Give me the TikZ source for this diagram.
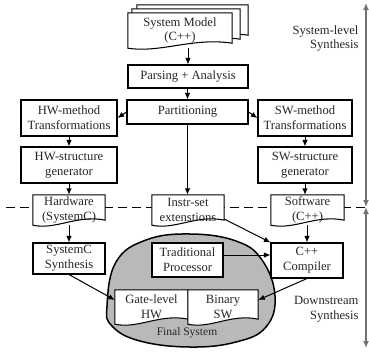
\documentclass[tikz,border=0pt]{standalone}
\usepackage{fontspec}
\setmainfont{Liberation Serif}
\usetikzlibrary{arrows.meta,calc}
\pgfdeclarelayer{bg}
\pgfdeclarelayer{docs}
\pgfsetlayers{bg,docs,main}

% outline of a document symbol (wavy lower edge) around a named node
\newcommand\docdraw[1]{%
  \draw[docline] (#1.south west) -- (#1.north west) -- (#1.north east)
    -- ($(#1.south east)+(0,-5)$)
    .. controls ($(#1.south west)!0.62!(#1.south east)+(0,-11)$)
       and ($(#1.south west)!0.32!(#1.south east)+(0,5)$) .. (#1.south west) -- cycle;}

\begin{document}
\begin{tikzpicture}[x=1pt,y=-1pt,
  lbl/.style={font=\fontsize{12.6}{14.8}\selectfont, align=center, text=black!85},
  box/.style={lbl, draw, line width=1.05pt, fill=white, inner sep=0pt},
  docnode/.style={lbl, inner sep=0pt},
  docline/.style={draw, line width=1.05pt, fill=white},
  arr/.style={-{Latex[length=6.5pt,width=5.5pt]}, line width=1pt},
  side/.style={{Latex[length=7pt,width=6pt]}-{Latex[length=7pt,width=6pt]}, line width=1.6pt, draw=black!55},
  cut/.style={dash pattern=on 9pt off 5pt, line width=1pt},
]
\useasboundingbox (0,0) rectangle (369,351);

% ---- system model stack ----
\node[docnode, minimum width=111pt, minimum height=35pt] (sm3) at (192.5,22.5) {};
\node[docnode, minimum width=108pt, minimum height=35pt] (sm2) at (186,26.5) {};
\node[docnode, minimum width=104pt, minimum height=35pt] (sm) at (180,30.5) {System Model\\(C++)};

% ---- upper flow ----
\node[box, minimum width=120pt, minimum height=23pt] (parse) at (188,76.5) {Parsing + Analysis};
\node[box, minimum width=121pt, minimum height=24pt] (part) at (187.5,112) {Partitioning};
\node[box, minimum width=96pt, minimum height=36pt] (hwm) at (69,118) {HW-method\\Transformations};
\node[box, minimum width=94pt, minimum height=36pt] (swm) at (305,118) {SW-method\\Transformations};
\node[box, minimum width=96pt, minimum height=36pt] (hws) at (69,165) {HW-structure\\generator};
\node[box, minimum width=94pt, minimum height=36pt] (sws) at (305,165) {SW-structure\\generator};

% ---- generated descriptions ----
\node[docnode, minimum width=72pt, minimum height=30pt] (hw) at (69,210) {Hardware\\(SystemC)};
\node[docnode, minimum width=72pt, minimum height=30pt] (isx) at (188,210) {Instr-set\\extenstions};
\node[docnode, minimum width=73pt, minimum height=30pt] (sw) at (307.5,210) {Software\\(C++)};

% ---- downstream tools ----
\node[box, minimum width=72pt, minimum height=31pt] (scs) at (69,258.5) {SystemC\\Synthesis};
\node[box, minimum width=71pt, minimum height=34pt] (trad) at (187.5,260) {Traditional\\Processor};
\node[box, minimum width=72pt, minimum height=35pt] (cpp) at (307,260.5) {C++\\Compiler};

% ---- final system contents ----
\node[docnode, minimum width=73pt, minimum height=34pt] (gate) at (151.5,307) {Gate-level\\HW};
\node[docnode, minimum width=70pt, minimum height=34pt] (bin) at (223,307) {Binary\\SW};
\node[lbl, font=\fontsize{11.5}{13}\selectfont] (fin) at (187,333) {Final System};

% ---- side labels ----
\node[lbl, align=right, anchor=east] (sl) at (362,38.5) {System-level\\Synthesis};
\node[lbl, align=right, anchor=east] (ds) at (362,309.5) {Downstream\\Synthesis};

% ---- background: final system region, level cut, side arrows ----
\begin{pgfonlayer}{bg}
  \fill[gray!55, draw=black, line width=1.5pt] plot[smooth cycle, tension=0.7] coordinates {
    (107,306) (116,262) (146,240) (190,234) (236,241) (262,260)
    (275,296) (266,327) (236,342) (190,347) (140,341) (112,326)};
  \coordinate (cl) at (6,207);
  \coordinate (cr) at (366,207);
  \coordinate (stop) at (366,3);
  \coordinate (sbot) at (366,348);
  \draw[cut] (cl) -- (cr);
  \draw[side] (stop) -- (cr);
  \draw[side] (cr) -- (sbot);
\end{pgfonlayer}

\begin{pgfonlayer}{docs}
  \docdraw{sm3}
  \docdraw{sm2}
  \docdraw{sm}
  \docdraw{hw}
  \docdraw{isx}
  \docdraw{sw}
  \docdraw{gate}
  \docdraw{bin}
\end{pgfonlayer}

% ---- connectors ----
\draw[arr] (parse.north |- sm.south) -- (parse.north);
\draw[arr] (parse.south -| part.north) -- (part.north);
\draw[arr] (part.west) -- (hwm.east);
\draw[arr] (part.east) -- (swm.west);
\draw[arr] (part.south) -- (isx.north -| part.south);
\draw[arr] (hwm) -- (hws);
\draw[arr] (hws) -- (hw);
\draw[arr] (swm.south -| sws.north) -- (sws.north);
\draw[arr] (sws.south) -- (sw.north -| sws.south);
\draw[arr] (hw.south) -- (scs.north);
\draw[arr] (sw.south -| cpp.north) -- (cpp.north);
\draw[arr] ([yshift=-9pt]isx.east) -- (cpp.north west);
\draw[arr] ([yshift=5pt]trad.east) -- ([yshift=5pt]trad.east -| cpp.west);
\draw[arr] (scs.south) -- ([yshift=7pt]gate.west);
\draw[arr] (cpp.south) -- ([yshift=7pt]bin.east);
\end{tikzpicture}
\end{document}
